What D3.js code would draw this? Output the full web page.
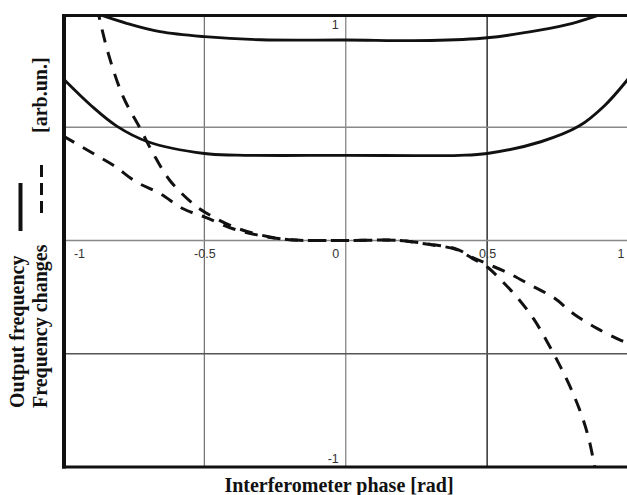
<!DOCTYPE html>
<html>
<head>
<meta charset="utf-8">
<script src="https://cdn.jsdelivr.net/npm/d3@7"></script>
<style>
  html, body { margin: 0; padding: 0; background: #fff; }
  svg { display: block; }
</style>
</head>
<body>
<svg id="chart" width="627" height="495"></svg>
<script>
// ---- data ----
const xTicks = [-1, -0.5, 0, 0.5, 1];
const xTickLabels = ["-1", "-0.5", "0", "0.5", "1"];
const yTicks = [1, -1];
const yTickLabels = ["1", "-1"];
const xGrid = [-0.5, 0, 0.5];
const yGrid = [0.5, 0, -0.5];

// Output frequency (solid)
const outputUpper = [[-0.9,1.01],[-0.775,0.959],[-0.657,0.922],[-0.5,0.9],[-0.3,0.886],[0,0.885],[0.3,0.883],[0.5,0.895],[0.686,0.929],[0.802,0.959],[0.93,1.01]];
const outputLower = [[-1,0.715],[-0.9,0.595],[-0.81,0.505],[-0.7,0.436],[-0.5,0.384],[-0.386,0.377],[0,0.376],[0.403,0.376],[0.5,0.384],[0.69,0.436],[0.825,0.505],[0.915,0.595],[1,0.715]];
// Frequency changes (dashed)
const changesSteep = [[-0.88,1.03],[-0.84,0.826],[-0.787,0.634],[-0.728,0.497],[-0.681,0.384],[-0.622,0.265],[-0.54,0.162],[-0.498,0.125],[-0.4,0.062],[-0.3,0.024],[-0.2,0.003],[-0.1,0],[0,0],[0.19,0],[0.297,-0.018],[0.392,-0.04],[0.449,-0.08],[0.498,-0.115],[0.544,-0.168],[0.604,-0.248],[0.664,-0.345],[0.714,-0.451],[0.756,-0.549],[0.795,-0.65],[0.83,-0.757],[0.859,-0.872],[0.885,-1.03]];
const changesShallow = [[-1,0.462],[-0.893,0.384],[-0.822,0.332],[-0.74,0.258],[-0.657,0.207],[-0.575,0.14],[-0.498,0.103],[-0.399,0.052],[-0.304,0.022],[-0.198,0.003],[-0.1,0],[0,0],[0.19,0],[0.297,-0.016],[0.392,-0.038],[0.449,-0.075],[0.498,-0.102],[0.572,-0.142],[0.657,-0.199],[0.735,-0.252],[0.809,-0.327],[0.89,-0.389],[0.975,-0.442],[1,-0.452]];

const xTitle = "Interferometer phase [rad]";
const yTitle1 = "Output frequency";
const yTitle2 = "Frequency changes";
const yUnit = "[arb.un.]";

// ---- drawing ----
const svg = d3.select("#chart");
const x = d3.scaleLinear().domain([-1, 1]).range([63, 628.5]);
const y = d3.scaleLinear().domain([-1, 1]).range([467, 14]);

const serif = "'Liberation Serif','Times New Roman',serif";
const sans = "'Liberation Sans',Arial,sans-serif";

svg.append("defs").append("clipPath").attr("id", "plot")
  .append("rect").attr("x", 64).attr("y", 15).attr("width", 570).attr("height", 452);

// grid
const xGridColor = {"-0.5": "#777", "0": "#888", "0.5": "#111"};
const yGridColor = {"0.5": "#888", "0": "#888", "-0.5": "#555"};
svg.append("g").selectAll("line").data(xGrid).join("line")
  .attr("x1", d => x(d)).attr("x2", d => x(d))
  .attr("y1", y(1)).attr("y2", y(-1))
  .attr("stroke", d => xGridColor[String(d)]).attr("stroke-width", 1.3);
svg.append("g").selectAll("line").data(yGrid).join("line")
  .attr("x1", x(-1)).attr("x2", 627)
  .attr("y1", d => y(d)).attr("y2", d => y(d))
  .attr("stroke", d => yGridColor[String(d)]).attr("stroke-width", 1.3);

// tick labels
svg.append("g").selectAll("text").data(xTicks).join("text")
  .attr("x", (d, i) => x(d) + (i === 0 ? 16.5 : i === 2 ? -10 : i === 4 ? -7.5 : 0.5))
  .attr("y", 258)
  .attr("text-anchor", "middle")
  .attr("font-family", sans).attr("font-size", 12.5).attr("fill", "#333")
  .text((d, i) => xTickLabels[i]);
svg.append("g").selectAll("text").data(yTicks).join("text")
  .attr("x", x(0) - 7)
  .attr("y", d => y(d) + (d > 0 ? 15 : -4.5))
  .attr("text-anchor", "end")
  .attr("font-family", sans).attr("font-size", 12.5).attr("fill", "#333")
  .text((d, i) => yTickLabels[i]);

// curves
const line = d3.line().x(d => x(d[0])).y(d => y(d[1])).curve(d3.curveCatmullRom.alpha(0.5));
const curves = svg.append("g").attr("clip-path", "url(#plot)");
[outputUpper, outputLower].forEach(s => {
  curves.append("path").attr("d", line(s)).attr("fill", "none")
    .attr("stroke", "#111").attr("stroke-width", 2.9);
});
[changesSteep, changesShallow].forEach(s => {
  curves.append("path").attr("d", line(s)).attr("fill", "none")
    .attr("stroke", "#111").attr("stroke-width", 3)
    .attr("stroke-dasharray", "13,10");
});

// frame
svg.append("line").attr("x1", 64).attr("x2", 64).attr("y1", 14).attr("y2", 468.5)
  .attr("stroke", "#111").attr("stroke-width", 4);
svg.append("line").attr("x1", 62).attr("x2", 627).attr("y1", 15.5).attr("y2", 15.5)
  .attr("stroke", "#111").attr("stroke-width", 3);
svg.append("line").attr("x1", 62).attr("x2", 627).attr("y1", 467).attr("y2", 467)
  .attr("stroke", "#111").attr("stroke-width", 3);

// titles
svg.append("text").attr("x", 339).attr("y", 492).attr("text-anchor", "middle")
  .attr("font-family", serif).attr("font-weight", "bold").attr("font-size", 20)
  .attr("fill", "#111").text(xTitle);
svg.append("text").attr("transform", "translate(23.5,408) rotate(-90)")
  .attr("font-family", serif).attr("font-weight", "bold").attr("font-size", 20)
  .attr("fill", "#111").text(yTitle1);
svg.append("text").attr("transform", "translate(46.5,408) rotate(-90)")
  .attr("font-family", serif).attr("font-weight", "bold").attr("font-size", 20)
  .attr("fill", "#111").text(yTitle2);
svg.append("text").attr("transform", "translate(46.5,133) rotate(-90)")
  .attr("font-family", serif).attr("font-weight", "bold").attr("font-size", 20)
  .attr("fill", "#111").text(yUnit);

// legend marks
svg.append("line").attr("x1", 20.5).attr("x2", 20.5).attr("y1", 183).attr("y2", 231)
  .attr("stroke", "#111").attr("stroke-width", 4);
svg.append("line").attr("x1", 41.5).attr("x2", 41.5).attr("y1", 213).attr("y2", 165)
  .attr("stroke", "#111").attr("stroke-width", 3).attr("stroke-dasharray", "12,6");
</script>
</body>
</html>
